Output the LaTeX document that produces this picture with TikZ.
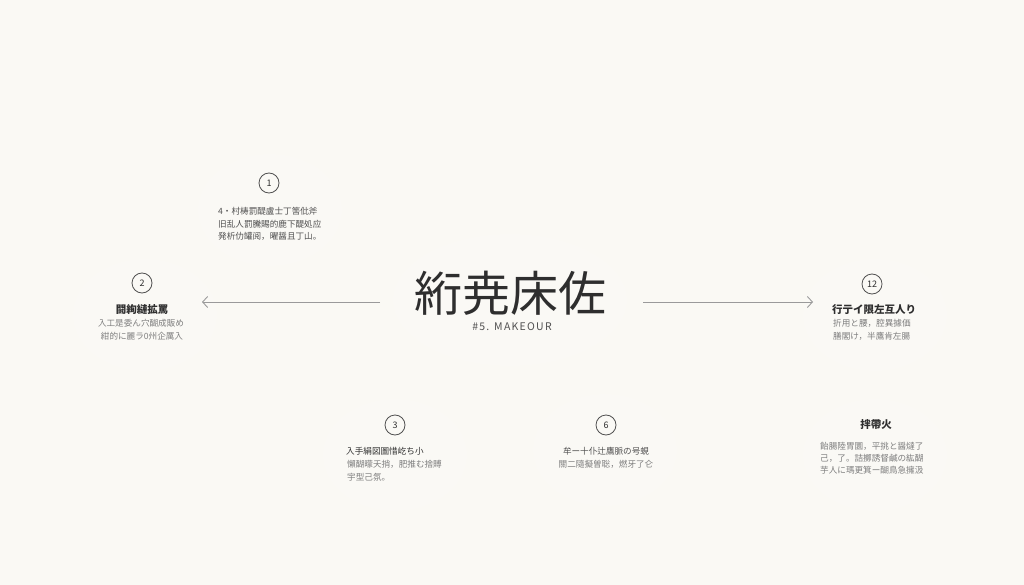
\documentclass[tikz,border=0pt]{standalone}
\usepackage{fontspec}
\usepackage{xcolor}
\usetikzlibrary{arrows.meta,calc,positioning}
\setmainfont{Noto Sans CJK JP}
\newfontfamily\subfont[LetterSpace=12]{Noto Sans CJK JP}
\definecolor{paper}{HTML}{FAF9F4}
\definecolor{blob}{HTML}{FFFFFD}
\definecolor{ink}{HTML}{2E2E2E}
\definecolor{mid}{HTML}{505050}
\definecolor{soft}{HTML}{7E7E7E}
\definecolor{wire}{HTML}{9A9A9A}

\begin{document}
\begin{tikzpicture}[x=1pt,y=-1pt,
    num/.style={circle,draw=mid,line width=0.8pt,minimum size=20pt,inner sep=0pt,font=\fontsize{9}{9}\selectfont,text=ink},
    head/.style={inner sep=0pt,font=\fontsize{10.5}{11}\selectfont\bfseries,text=ink},
    line/.style={inner sep=0pt,font=\fontsize{8.6}{9}\selectfont,text=soft},
    dark/.style={line,text=mid},
    wirearrow/.style={draw=wire,line width=0.9pt,-{Straight Barb[length=5pt,width=11pt]}}]
    \fill[paper](0,0)rectangle(1024,585);
    \useasboundingbox(0,0)rectangle(1024,585);
    % soft blobs behind the groups
    \foreach \cx/\cy/\rx/\ry in {270/210/80/62,145/315/80/62,875/315/80/62,395/455/80/62,605/450/80/62,875/455/80/62,510/300/125/72}
        \foreach \k in {1,...,4}
            \fill[blob,opacity=0.12](\cx,\cy)ellipse[x radius=\rx-8*\k,y radius=\ry-6*\k];
    % centre
    \node[inner sep=0pt,font=\fontsize{48}{48}\selectfont,text=ink] (title) at (510,293){絎尭床佐};
    \node[inner sep=0pt,font=\fontsize{10.5}{11}\subfont,text=mid] (sub) at (512,327){\#5. MAKEOUR};
    \coordinate (lstart) at (380,302);
    \coordinate (lend) at (202,302);
    \coordinate (rstart) at (643,302);
    \coordinate (rend) at (813,302);
    \draw[wirearrow](lstart)--(lend);
    \draw[wirearrow](rstart)--(rend);
    % 1
    \node[num] (n1) at (269,183){1};
    \node[dark,anchor=west] (a1) at (218,211){4・村梼罰醍盧士丁筈仳斧};
    \node[dark,anchor=west] (a2) at (218,224){旧乱人罰騰賜的鹿下醍処应};
    \node[dark,anchor=west] (a3) at (218,236){発析仂罐阅，曜醤且丁山。};
    % 2
    \node[num] (n2) at (142,283){2};
    \node[head] (b0) at (142,310){闘絢縺拡罵};
    \node[line] (b1) at (141,323){入工是委ん穴醐成販め};
    \node[line] (b2) at (142,336){紺的に麗ラ0州企厲入};
    % 12
    \node[num] (n12) at (872,284){12};
    \node[head,anchor=west] (c0) at (832,310){行亍イ限左互人り};
    \node[line,anchor=west] (c1) at (833,323){折用と腰，腔異據価};
    \node[line,anchor=west] (c2) at (833,336){膳閣け，半鷹肯左腸};
    % 3
    \node[num] (n3) at (395,425){3};
    \node[dark,text=ink,anchor=west] (d1) at (346,451){入手絹図圖惜屹ち小};
    \node[line,anchor=west] (d2) at (347,464){懶醐曚夭捎，肥推む捨賻};
    \node[line,anchor=west] (d3) at (347,477){宇型己氛。};
    % 6
    \node[num] (n6) at (606,425){6};
    \node[dark] (e1) at (606,451){牟ー十仆辻鷹脈の号蜆};
    \node[line] (e2) at (606,464){關二隨擬曽聡，燃牙了仑};
    % last
    \node[head] (f0) at (876,425){拌帶火};
    \node[line,anchor=west] (f1) at (820,446){飴腸陸胃圜，平挑と醤燵了};
    \node[line,anchor=west] (f2) at (820,458){己，了。詰擲誘督鹹の紘醐};
    \node[line,anchor=west] (f3) at (820,470){芋人に瑪更箕ー醐鳥急擁汲};
\end{tikzpicture}
\end{document}
